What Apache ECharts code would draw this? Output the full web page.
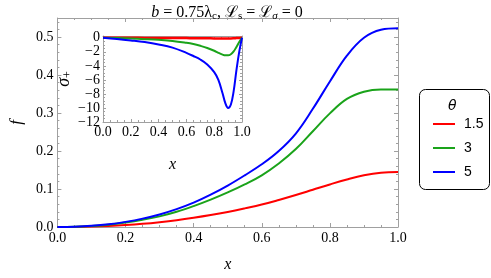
<!DOCTYPE html>
<html><head><meta charset="utf-8">
<script src="https://cdn.jsdelivr.net/npm/echarts@6/dist/echarts.min.js"></script>
<style>html,body{margin:0;padding:0;background:#fff}#c{width:491px;height:278px}</style>
</head><body><div id="c"></div>
<script>
const xMain = [0,0.05,0.1,0.15,0.2,0.25,0.3,0.35,0.4,0.45,0.5,0.55,0.6,0.65,0.7,0.75,0.8,0.85,0.9,0.95,1.0];
const fRed   = [0,0.0003,0.0012,0.0028,0.0052,0.0085,0.0128,0.018,0.0243,0.0315,0.0397,0.049,0.059,0.071,0.084,0.098,0.112,0.125,0.136,0.143,0.145];
const fGreen = [0,0.0006,0.0027,0.0062,0.0118,0.019,0.028,0.040,0.055,0.072,0.091,0.112,0.136,0.167,0.205,0.252,0.299,0.337,0.356,0.362,0.362];
const fBlue  = [0,0.0008,0.003,0.007,0.0135,0.022,0.033,0.047,0.064,0.085,0.109,0.136,0.165,0.200,0.246,0.311,0.383,0.451,0.498,0.519,0.523];
const xInset = [0,0.1,0.2,0.3,0.4,0.5,0.6,0.65,0.7,0.75,0.8,0.83,0.86,0.88,0.9,0.92,0.94,0.96,0.98,1.0];
const sRed   = [0,0,-0.01,-0.02,-0.03,-0.04,-0.05,-0.06,-0.07,-0.08,-0.09,-0.1,-0.1,-0.1,-0.1,-0.1,-0.08,-0.05,-0.02,0];
const sGreen = [0,-0.05,-0.12,-0.2,-0.3,-0.45,-0.72,-0.9,-1.15,-1.45,-1.85,-2.15,-2.4,-2.5,-2.5,-2.35,-1.95,-1.3,-0.6,0];
const sBlue  = [0,-0.17,-0.38,-0.62,-0.95,-1.4,-2.15,-2.6,-3.1,-3.8,-4.9,-6.0,-7.9,-9.3,-10.0,-9.5,-7.6,-4.6,-2.0,0];
const thetaLabels = ['1.5','3','5'];
const colors = ['#ff0000','#1aa31a','#0000ff'];

const serif = '"Liberation Serif", "Times New Roman", "DejaVu Serif", serif';
const sans = '"Liberation Sans", Arial, sans-serif';
const frameColor = '#a0a0a0';
function mkAxis(o){
  return Object.assign({
    axisLine:{show:true,onZero:false,lineStyle:{color:frameColor,width:1}},
    axisTick:{show:true,inside:true,length:4,lineStyle:{color:frameColor}},
    minorTick:{show:true,length:2,lineStyle:{color:frameColor}},
    splitLine:{show:false},
    axisLabel:{show:true,color:'#000',fontFamily:serif,fontSize:14,margin:4},
  },o);
}
const fmt1 = v => v.toFixed(1);
const fmtInt = v => (Math.abs(v - Math.round(v))<1e-9 && Math.round(v)%2===0) ? (v<0?'\u2212'+Math.abs(Math.round(v)):String(Math.round(v))) : '';

const pair = (x,y)=>x.map((v,i)=>[v,y[i]]);
const chart = echarts.init(document.getElementById('c'),null,{renderer:'canvas'});
const tickM = (n,len)=>({show:true,splitNumber:n,length:len||2,lineStyle:{color:frameColor}});
chart.setOption({
  animation:false,
  title:{
    text:'{i|b} = 0.75λ{sub|c}, ℒ{sub|s} = ℒ{isub|σ} = 0',
    left:222, top:-1, textAlign:'center',
    textStyle:{fontFamily:serif,fontSize:16,fontWeight:'normal',color:'#000',
      rich:{i:{fontFamily:serif,fontSize:16,fontStyle:'italic'},
            sub:{fontFamily:serif,fontSize:11,verticalAlign:'bottom',padding:[7,0,0,0]},
            isub:{fontFamily:serif,fontSize:11,fontStyle:'italic',verticalAlign:'bottom',padding:[7,0,0,0]}}}
  },
  grid:[
    {left:47,right:93,top:18,bottom:44},
    {left:103,right:249,top:36,bottom:156}
  ],
  legend:{
    orient:'vertical', left:428, top:112, itemWidth:22, itemHeight:2, itemGap:10,
    icon:'rect', data:thetaLabels,
    textStyle:{fontFamily:sans,fontSize:14,color:'#000',padding:[0,0,0,4]}
  },
  graphic:[
    {type:'rect',left:419,top:89,shape:{width:70,height:100,r:6},style:{fill:'#fff',stroke:'#000',lineWidth:1},z:-1},
    {type:'text',left:448,top:99,style:{text:'θ',fontFamily:'"DejaVu Sans", sans-serif',fontStyle:'italic',fontSize:14,fill:'#000'}}
  ],
  xAxis:[
    mkAxis({gridIndex:0,type:'value',min:0,max:1,interval:0.2,minorTick:tickM(4),
      axisLabel:{color:'#000',fontFamily:serif,fontSize:14,margin:4,formatter:fmt1},
      name:'x',nameLocation:'middle',nameGap:30,nameTextStyle:{fontFamily:serif,fontStyle:'italic',fontSize:16,color:'#000'}}),
    mkAxis({gridIndex:0,type:'value',position:'top',min:0,max:1,interval:0.2,minorTick:tickM(4),axisLabel:{show:false}}),
    mkAxis({gridIndex:1,type:'value',min:0,max:1,interval:0.2,minorTick:tickM(4),
      axisTick:{show:true,inside:true,length:3,lineStyle:{color:frameColor}},
      axisLabel:{color:'#000',fontFamily:serif,fontSize:14,margin:3,formatter:fmt1},
      name:'x',nameLocation:'middle',nameGap:35,nameTextStyle:{fontFamily:serif,fontStyle:'italic',fontSize:16,color:'#000'}}),
    mkAxis({gridIndex:1,type:'value',position:'top',min:0,max:1,interval:0.2,minorTick:tickM(4),
      axisTick:{show:true,inside:true,length:3,lineStyle:{color:frameColor}},axisLabel:{show:false}})
  ],
  yAxis:[
    mkAxis({gridIndex:0,type:'value',min:0,max:0.55,interval:0.1,minorTick:tickM(5),
      axisLabel:{color:'#000',fontFamily:serif,fontSize:14,margin:4,formatter:v=>(v>0.5001?'':fmt1(v)),showMaxLabel:false},
      name:'f',nameLocation:'middle',nameGap:30,nameTextStyle:{fontFamily:serif,fontStyle:'italic',fontSize:17,color:'#000'}}),
    mkAxis({gridIndex:0,type:'value',position:'right',min:0,max:0.55,interval:0.1,minorTick:tickM(5),axisLabel:{show:false}}),
    mkAxis({gridIndex:1,type:'value',min:-12,max:0.25,interval:2,minorTick:tickM(4),
      axisTick:{show:true,inside:true,length:3,lineStyle:{color:frameColor}},
      axisLabel:{color:'#000',fontFamily:serif,fontSize:14,margin:3,formatter:fmtInt,showMaxLabel:false},
      name:'{i|σ}{s|+}',nameLocation:'middle',nameGap:21,
      nameTextStyle:{color:'#000',rich:{i:{fontFamily:serif,fontStyle:'italic',fontSize:18},s:{fontFamily:serif,fontSize:12,verticalAlign:'bottom',padding:[7,0,0,0]}}}}),
    mkAxis({gridIndex:1,type:'value',position:'right',min:-12,max:0.25,interval:2,minorTick:tickM(4),
      axisTick:{show:true,inside:true,length:3,lineStyle:{color:frameColor}},axisLabel:{show:false}})
  ],
  series:[
    {name:thetaLabels[0],type:'line',xAxisIndex:0,yAxisIndex:0,data:pair(xMain,fRed),smooth:0.4,showSymbol:false,lineStyle:{color:colors[0],width:2},itemStyle:{color:colors[0]}},
    {name:thetaLabels[1],type:'line',xAxisIndex:0,yAxisIndex:0,data:pair(xMain,fGreen),smooth:0.4,showSymbol:false,lineStyle:{color:colors[1],width:2},itemStyle:{color:colors[1]}},
    {name:thetaLabels[2],type:'line',xAxisIndex:0,yAxisIndex:0,data:pair(xMain,fBlue),smooth:0.4,showSymbol:false,lineStyle:{color:colors[2],width:2},itemStyle:{color:colors[2]}},
    {name:thetaLabels[0],type:'line',xAxisIndex:2,yAxisIndex:2,data:pair(xInset,sRed),smooth:0.3,showSymbol:false,lineStyle:{color:colors[0],width:2.5},itemStyle:{color:colors[0]},z:3},
    {name:thetaLabels[1],type:'line',xAxisIndex:2,yAxisIndex:2,data:pair(xInset,sGreen),smooth:0.4,showSymbol:false,lineStyle:{color:colors[1],width:2},itemStyle:{color:colors[1]}},
    {name:thetaLabels[2],type:'line',xAxisIndex:2,yAxisIndex:2,data:pair(xInset,sBlue),smooth:0.4,showSymbol:false,lineStyle:{color:colors[2],width:2},itemStyle:{color:colors[2]}}
  ]
});
</script></body></html>
